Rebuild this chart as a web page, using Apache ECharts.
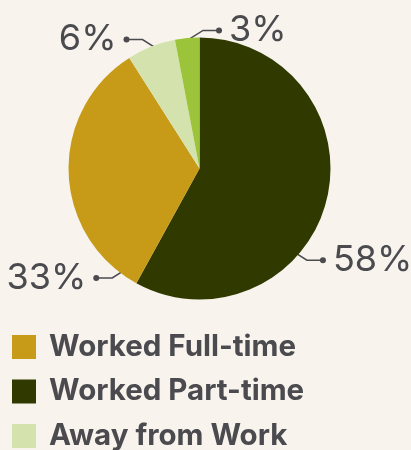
<!DOCTYPE html>
<html>
<head>
<meta charset="utf-8">
<script src="https://cdn.jsdelivr.net/npm/echarts@6/dist/echarts.min.js"></script>
<style>
  html, body { margin: 0; padding: 0; background: #f8f4ed; }
  #chart { width: 411px; height: 450px; }
</style>
</head>
<body>
<div id="chart"></div>
<script>
// slices, clockwise from 12 o'clock
var categories = ["Worked Part-time", "Worked Full-time", "Away from Work", "Hours not stated"];
var values = [58, 33, 6, 3];
var colors = ["#303a00", "#c79a17", "#d4e3ae", "#9bc43b"];
// legend order as shown under the pie
var legendOrder = ["Worked Full-time", "Worked Part-time", "Away from Work", "Hours not stated"];

// where each label line leaves the pie: [angle clockwise from top, radius px], and side of the label
var labelAnchors = [[132, 119], [215, 119], [342, 123], [353, 127]];
var labelSides = [1, -1, -1, 1];

var pieCenter = [199.5, 168.5];
var pieRadius = 131;

var chart = echarts.init(document.getElementById("chart"), null, { renderer: "canvas" });

var option = {
  backgroundColor: "#f8f4ed",
  animation: false,
  legend: {
    orient: "vertical",
    left: 12,
    top: 332,
    height: 220,
    padding: 0,
    icon: "rect",
    itemWidth: 24,
    itemHeight: 24,
    itemGap: 14.5,
    selectedMode: false,
    data: legendOrder,
    textStyle: {
      fontFamily: "Inter",
      fontSize: 29.5,
      fontWeight: 700,
      color: "#4a4a4f",
      lineHeight: 24,
      padding: [0, 0, 0, 8]
    }
  },
  series: [
    {
      type: "pie",
      center: pieCenter,
      radius: pieRadius,
      startAngle: 90,
      clockwise: true,
      silent: true,
      data: categories.map(function (c, i) {
        return { name: c, value: values[i], itemStyle: { color: colors[i] } };
      }),
      label: {
        show: true,
        width: 110,
        fontFamily: "Inter",
        fontSize: 36,
        fontWeight: 400,
        color: "#4a4a4f",
        formatter: function (p) {
          return labelSides[p.dataIndex] > 0 ? "{dot|}{gap|}" + p.value + "%" : p.value + "%{gap|}{dot|}";
        },
        rich: {
          dot: { width: 6, height: 6, borderRadius: 3, backgroundColor: "#4a4a4f" },
          gap: { width: 7 }
        }
      },
      labelLine: {
        show: true,
        lineStyle: { color: "#4a4a4f", width: 1.5 }
      },
      labelLayout: function (p) {
        var i = p.dataIndex;
        var a = labelAnchors[i][0] * Math.PI / 180;
        var r = labelAnchors[i][1];
        var side = labelSides[i];
        var x0 = pieCenter[0] + r * Math.sin(a);
        var y0 = pieCenter[1] - r * Math.cos(a);
        var up = Math.cos(a) > 0 ? -1 : 1;
        var x1 = x0 + side * 19;
        var y1 = y0 + up * 12;
        var x2 = x1 + side * 16;
        return {
          x: x2 - side * 3,
          y: y1,
          align: side > 0 ? "left" : "right",
          verticalAlign: "middle",
          labelLinePoints: [[x0, y0], [x1, y1], [x2, y1]]
        };
      },
      itemStyle: { borderWidth: 0 }
    }
  ]
};

chart.setOption(option);
</script>
</body>
</html>
